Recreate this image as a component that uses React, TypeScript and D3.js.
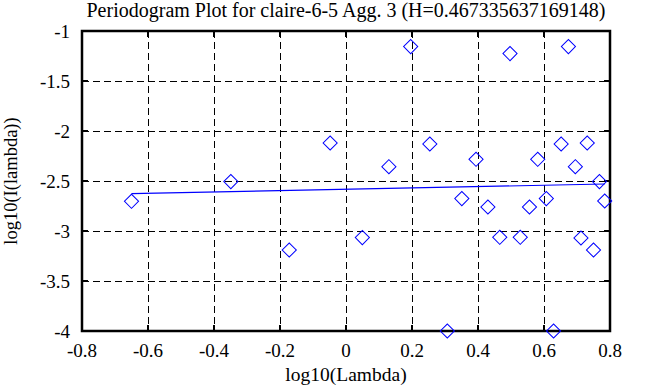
import { useEffect, useRef } from 'react'
import * as d3 from 'd3'

// log10(Lambda) values
const lambdaLog = [
  -0.650, -0.349, -0.172, -0.048, 0.0495, 0.130, 0.196, 0.254, 0.307,
  0.351, 0.394, 0.430, 0.466, 0.497, 0.528, 0.556, 0.581, 0.607,
  0.629, 0.652, 0.674, 0.695, 0.712, 0.731, 0.750, 0.768, 0.784,
]
// log10(I(lambda)) values
const periodLog = [
  -2.703, -2.506, -3.19, -2.12, -3.066, -2.357, -1.156, -2.13, -4.0,
  -2.676, -2.283, -2.76, -3.063, -1.226, -3.063, -2.76, -2.283, -2.676,
  -4.0, -2.13, -1.156, -2.357, -3.07, -2.12, -3.19, -2.506, -2.70,
]
// fitted line endpoints (y values at first and last lambda)
const fitY = [-2.627, -2.53]

const xTicks = [-0.8, -0.6, -0.4, -0.2, 0, 0.2, 0.4, 0.6, 0.8]
const yTicks = [-1, -1.5, -2, -2.5, -3, -3.5, -4]

const title = 'Periodogram Plot for claire-6-5 Agg. 3 (H=0.467335637169148)'

export default function App() {
  const svgRef = useRef<SVGSVGElement>(null)

  useEffect(() => {
    if (!svgRef.current) return
    const svg = d3.select(svgRef.current)
    svg.selectAll('*').remove()

    const left = 82, right = 610, top = 31, bottom = 331
    const font = '"Liberation Serif", "Times New Roman", serif'

    const x = d3.scaleLinear().domain([-0.8, 0.8]).range([left, right])
    const y = d3.scaleLinear().domain([-4, -1]).range([bottom, top])

    svg.append('rect')
      .attr('width', 653).attr('height', 387)
      .style('fill', 'white')

    // grid
    const grid = svg.append('g')
      .style('stroke', 'black')
      .style('stroke-width', '1px')
      .style('stroke-dasharray', '7,4')
      .style('shape-rendering', 'crispEdges')
    grid.selectAll('.gx')
      .data(xTicks.slice(1, -1))
      .enter().append('line')
      .attr('x1', d => Math.round(x(d)) + 0.5).attr('x2', d => Math.round(x(d)) + 0.5)
      .attr('y1', top).attr('y2', bottom)
    grid.selectAll('.gy')
      .data(yTicks.slice(1, -1))
      .enter().append('line')
      .attr('y1', d => Math.round(y(d)) + 0.5).attr('y2', d => Math.round(y(d)) + 0.5)
      .attr('x1', left).attr('x2', right)

    // ticks on all sides
    const ticks = svg.append('g')
      .style('stroke', 'black')
      .style('stroke-width', '2px')
    const tl = 6
    xTicks.forEach(t => {
      const px = Math.round(x(t))
      ticks.append('line').attr('x1', px).attr('x2', px).attr('y1', bottom).attr('y2', bottom - tl)
      ticks.append('line').attr('x1', px).attr('x2', px).attr('y1', top).attr('y2', top + tl)
    })
    yTicks.forEach(t => {
      const py = Math.round(y(t))
      ticks.append('line').attr('y1', py).attr('y2', py).attr('x1', left).attr('x2', left + tl)
      ticks.append('line').attr('y1', py).attr('y2', py).attr('x1', right).attr('x2', right - tl)
    })

    // frame
    svg.append('rect')
      .attr('x', left).attr('y', top)
      .attr('width', right - left).attr('height', bottom - top)
      .style('fill', 'none')
      .style('stroke', 'black')
      .style('stroke-width', '2.5px')

    // fitted line
    svg.append('line')
      .attr('x1', x(lambdaLog[0])).attr('y1', y(fitY[0]))
      .attr('x2', x(lambdaLog[lambdaLog.length - 1])).attr('y2', y(fitY[1]))
      .style('stroke', '#0000ff')
      .style('stroke-width', '1.2px')

    // diamonds
    const sym = d3.symbol().type(d3.symbolSquare).size(100)
    svg.append('g').selectAll('path')
      .data(lambdaLog.map((v, i) => [v, periodLog[i]]))
      .enter().append('path')
      .attr('d', sym)
      .attr('transform', d => `translate(${x(d[0])},${y(d[1])}) rotate(45)`)
      .style('fill', 'none')
      .style('stroke', '#0000ff')
      .style('stroke-width', '1px')

    // tick labels
    svg.append('g').selectAll('text')
      .data(xTicks)
      .enter().append('text')
      .attr('x', d => x(d))
      .attr('y', 357)
      .attr('text-anchor', 'middle')
      .style('font-family', font)
      .style('font-size', '19px')
      .text(d => String(d))
    svg.append('g').selectAll('text')
      .data(yTicks)
      .enter().append('text')
      .attr('x', 70)
      .attr('y', d => y(d) + 6.5)
      .attr('text-anchor', 'end')
      .style('font-family', font)
      .style('font-size', '19px')
      .text(d => String(d))

    // titles
    svg.append('text')
      .attr('x', (left + right) / 2)
      .attr('y', 17)
      .attr('text-anchor', 'middle')
      .style('font-family', font)
      .style('font-size', '20px')
      .text(title)
    svg.append('text')
      .attr('x', (left + right) / 2)
      .attr('y', 381)
      .attr('text-anchor', 'middle')
      .style('font-family', font)
      .style('font-size', '19.5px')
      .text('log10(Lambda)')
    svg.append('text')
      .attr('transform', `translate(17,${(top + bottom) / 2}) rotate(-90)`)
      .attr('text-anchor', 'middle')
      .style('font-family', font)
      .style('font-size', '18.5px')
      .text('log10(I(lambda))')
  }, [])

  return (
    <svg
      ref={svgRef}
      width={653}
      height={387}
      style={{ position: 'absolute', left: 0, top: 0, display: 'block' }}
    />
  )
}
